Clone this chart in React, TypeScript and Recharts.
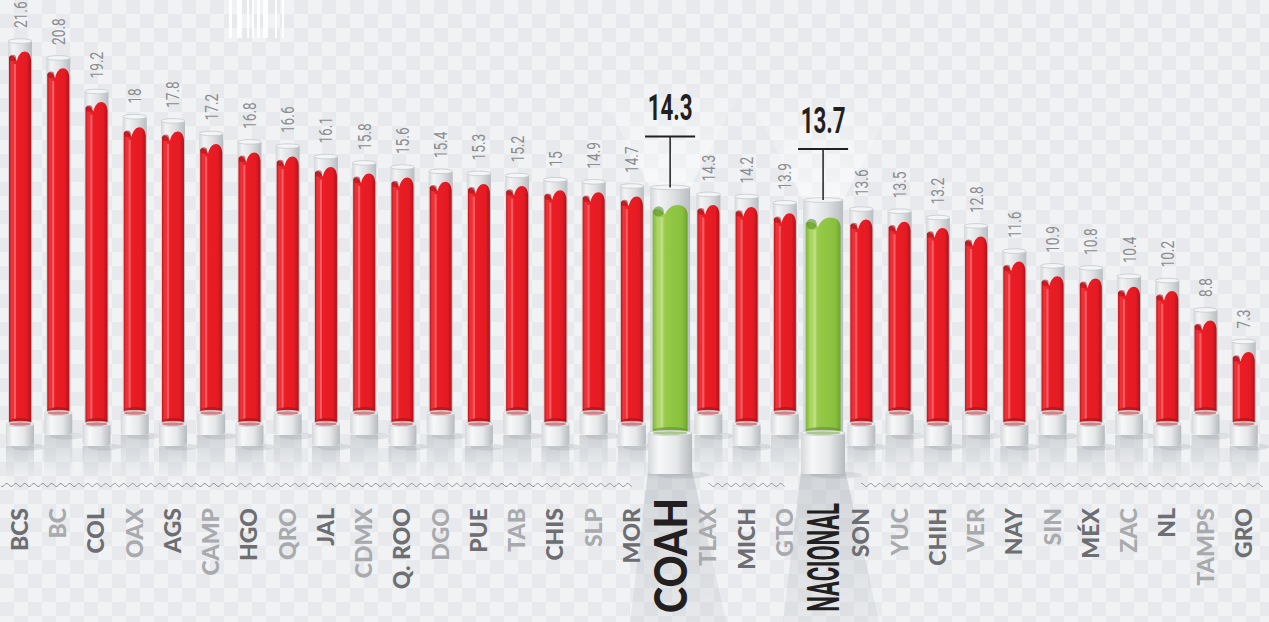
import React from 'react';
import { BarChart, Bar, XAxis, YAxis, LabelList } from 'recharts';

const categories = ['BCS', 'BC', 'COL', 'OAX', 'AGS', 'CAMP', 'HGO', 'QRO', 'JAL', 'CDMX', 'Q. ROO', 'DGO', 'PUE', 'TAB', 'CHIS', 'SLP', 'MOR', 'COAH', 'TLAX', 'MICH', 'GTO', 'NACIONAL', 'SON', 'YUC', 'CHIH', 'VER', 'NAY', 'SIN', 'MÉX', 'ZAC', 'NL', 'TAMPS', 'GRO'];
const values = [21.6, 20.8, 19.2, 18, 17.8, 17.2, 16.8, 16.6, 16.1, 15.8, 15.6, 15.4, 15.3, 15.2, 15, 14.9, 14.7, 14.3, 14.3, 14.2, 13.9, 13.7, 13.6, 13.5, 13.2, 12.8, 11.6, 10.9, 10.8, 10.4, 10.2, 8.8, 7.3];
const highlighted = ['COAH', 'NACIONAL'];
const yDomain = [3.94, 24.08];

const data = categories.map((name, i) => ({ name, value: values[i] }));

const W = 1269;
const H = 622;
const M = { top: 0, right: 6, bottom: 199, left: 1 };
const BAND = (W - M.left - M.right) / categories.length;

const isHi = (i: number) => highlighted.includes(categories[i]);
function regularRank(index: number) {
  let c = 0;
  for (let i = 0; i < index; i++) if (isHi(i)) c++;
  return index - c;
}
const isLow = (i: number) => regularRank(i) % 2 === 0;

function wavePath(xs: number, xe: number, wy: number) {
  let d = '';
  for (let x = xs; x <= xe + 0.01; x += 1) {
    const yy = wy + 1.6 * Math.sin((2 * Math.PI * x) / 9);
    d += (d ? ' L' : 'M') + x.toFixed(1) + ',' + yy.toFixed(2);
  }
  return d;
}

function Defs() {
  return (
    <defs>
      <linearGradient id="redG" x1="0" x2="1" y1="0" y2="0">
        <stop offset="0" stopColor="#c5131a" />
        <stop offset="0.12" stopColor="#f2343a" />
        <stop offset="0.3" stopColor="#ec1c24" />
        <stop offset="0.8" stopColor="#e41b23" />
        <stop offset="1" stopColor="#b5111a" />
      </linearGradient>
      <linearGradient id="greenG" x1="0" x2="1" y1="0" y2="0">
        <stop offset="0" stopColor="#7db53a" />
        <stop offset="0.15" stopColor="#b0d867" />
        <stop offset="0.4" stopColor="#95c946" />
        <stop offset="0.85" stopColor="#88c03d" />
        <stop offset="1" stopColor="#6ea42e" />
      </linearGradient>
      <linearGradient id="glassG" x1="0" x2="1" y1="0" y2="0">
        <stop offset="0" stopColor="#d3d7da" />
        <stop offset="0.2" stopColor="#f2f3f4" />
        <stop offset="0.6" stopColor="#dde0e2" />
        <stop offset="1" stopColor="#b8bdc1" />
      </linearGradient>
      <linearGradient id="capG" x1="0" x2="1" y1="0" y2="0">
        <stop offset="0" stopColor="#d6d9dc" />
        <stop offset="0.25" stopColor="#f7f8f8" />
        <stop offset="0.65" stopColor="#e5e7e9" />
        <stop offset="1" stopColor="#b6bbbf" />
      </linearGradient>
      <linearGradient id="shadowG" x1="0" x2="0" y1="0" y2="1">
        <stop offset="0" stopColor="#b4b9be" stopOpacity="0.55" />
        <stop offset="1" stopColor="#d0d4d8" stopOpacity="0" />
      </linearGradient>
      <linearGradient id="spotG" x1="0" x2="0" y1="0" y2="1">
        <stop offset="0" stopColor="#ffffff" stopOpacity="0" />
        <stop offset="1" stopColor="#ffffff" stopOpacity="0.5" />
      </linearGradient>
      <linearGradient id="floorG" x1="0" x2="0" y1="0" y2="1">
        <stop offset="0" stopColor="#9aa0a6" stopOpacity="0.35" />
        <stop offset="1" stopColor="#b0b5ba" stopOpacity="0.15" />
      </linearGradient>
    </defs>
  );
}

function Tube(props: any) {
  const { x, y, width, height, index } = props;
  const hi = isHi(index);
  const cx = x + width / 2;
  const base = y + height;
  const low = isLow(index);
  const lb = hi ? base + 9 : low ? base : base - 11;
  const gw = hi ? 40 : 24;
  const lw = hi ? 35 : 22;
  const capW = hi ? 44 : 28;
  const capH = hi ? 42 : 23;
  const gTop = y - (hi ? 18 : 11);
  const capBottom = lb + capH;
  const waveY = base + 62;
  const t = y;
  const x0 = cx - lw / 2;
  const x1 = cx + lw / 2;

  let ws = cx - BAND / 2;
  let we = cx + BAND / 2;
  if (index > 0 && isHi(index - 1)) ws = cx;
  if (index < categories.length - 1 && isHi(index + 1)) we = cx;

  const liquid = `M${x0},${lb} L${x0},${t + 5} Q${x0 + lw * 0.18},${t + 1} ${x0 + lw * 0.36},${t + 9} C${x0 + lw * 0.46},${t - 3} ${x0 + lw * 0.96},${t - 4} ${x1},${t + 8} L${x1},${lb} Z`;
  const tY = gTop - 51;

  return (
    <g>
      {index === 0 && <Defs />}
      {!hi && <path d={wavePath(ws, we, waveY)} fill="none" stroke="#8f9397" strokeWidth={1} />}
      {hi && (
        <>
          <polygon
            points={`${cx - gw / 2},${gTop} ${cx + gw / 2},${gTop} ${cx + 80},${gTop - 115} ${cx - 80},${gTop - 115}`}
            fill="url(#spotG)"
          />
          <polygon
            points={`${cx - capW / 2},${capBottom - 4} ${cx + capW / 2},${capBottom - 4} ${cx + capW / 2 + 34},${H} ${cx - capW / 2 - 18},${H}`}
            fill="url(#floorG)"
          />
        </>
      )}
      <rect x={cx - capW / 2} y={capBottom} width={capW} height={Math.max(0, waveY - 4 - capBottom)} fill="url(#shadowG)" />
      <ellipse cx={cx + capW * 0.3} cy={capBottom + 1} rx={capW * 0.6} ry={3.5} fill="#7d8388" opacity={0.16} />
      <rect x={cx - gw / 2} y={gTop} width={gw} height={lb - gTop} fill="url(#glassG)" />
      <path d={liquid} fill={hi ? 'url(#greenG)' : 'url(#redG)'} />
      <circle cx={x0 + lw * 0.17} cy={t + 6} r={lw * 0.15} fill={hi ? '#4f8a1c' : '#9e1016'} opacity={0.55} />
      <rect x={x0 + lw * 0.22} y={t + 12} width={hi ? 3 : 2.2} height={Math.max(0, lb - t - 16)} fill="#ffffff" opacity={0.28} />
      <ellipse cx={cx} cy={lb - 2} rx={lw / 2} ry={3} fill={hi ? '#4f7e1e' : '#8e0d12'} opacity={0.45} />
      <ellipse cx={cx} cy={gTop} rx={gw / 2} ry={2.3} fill="#f4f5f6" stroke="#c5c9cd" strokeWidth={0.8} />
      <rect x={cx - capW / 2} y={lb} width={capW} height={capH} rx={4} fill="url(#capG)" />
      <ellipse cx={cx} cy={lb + 1} rx={capW / 2} ry={2.6} fill="#eff1f2" stroke="#cdd1d4" strokeWidth={0.8} />
      <ellipse cx={cx} cy={lb + 1} rx={lw / 2} ry={1.8} fill={hi ? '#6a9c2d' : '#b3141b'} opacity={0.5} />
      {hi && (
        <>
          <line x1={cx - 25} x2={cx + 25} y1={tY} y2={tY} stroke="#231f20" strokeWidth={2} />
          <line x1={cx} x2={cx} y1={tY} y2={gTop} stroke="#231f20" strokeWidth={1.5} />
          <text
            transform={`translate(${cx},${tY - 16}) scale(0.62,1)`}
            textAnchor="middle"
            fontFamily="Roboto, 'DejaVu Sans', sans-serif"
            fontWeight={700}
            fontSize={36}
            fill="#231f20"
          >
            {values[index]}
          </text>
        </>
      )}
    </g>
  );
}

function getBox(props: any) {
  const vb = props.viewBox || {};
  return {
    x: props.x ?? vb.x,
    y: props.y ?? vb.y,
    width: props.width ?? vb.width,
    height: props.height ?? vb.height,
  };
}

function ValueLabel(props: any) {
  const { index, value } = props;
  if (isHi(index)) return null;
  const { x, y, width } = getBox(props);
  const cx = x + width / 2;
  return (
    <text
      transform={`translate(${cx + 6.5},${y - 24}) rotate(-90) scale(0.74,1)`}
      textAnchor="start"
      fontFamily="Roboto, 'DejaVu Sans', sans-serif"
      fontWeight={400}
      fontSize={18.5}
      fill="#8b8d90"
    >
      {value}
    </text>
  );
}

function CategoryLabel(props: any) {
  const { index, value } = props;
  const { x, y, width, height } = getBox(props);
  const cx = x + width / 2;
  const base = y + height;
  const name = categories[index];
  if (name === 'COAH') {
    return (
      <text
        transform={`translate(${cx + 16.5},${base + 75}) rotate(-90) scale(0.86,1)`}
        textAnchor="end"
        fontFamily="Lato, 'DejaVu Sans', sans-serif"
        fontWeight={900}
        fontSize={46}
        fill="#231f20"
      >
        {value}
      </text>
    );
  }
  if (name === 'NACIONAL') {
    return (
      <text
        transform={`translate(${cx + 16},${base + 80}) rotate(-90) scale(0.5,1)`}
        textAnchor="end"
        fontFamily="Roboto, 'DejaVu Sans', sans-serif"
        fontWeight={700}
        fontSize={44}
        fill="#231f20"
      >
        {value}
      </text>
    );
  }
  const dark = isLow(index);
  return (
    <text
      transform={`translate(${cx + 8},${base + 85}) rotate(-90)`}
      textAnchor="end"
      fontFamily="Lato, 'DejaVu Sans', sans-serif"
      fontWeight={900}
      fontSize={23}
      fill={dark ? '#6d6e71' : '#a8aaad'}
    >
      {value}
    </text>
  );
}

const stripes = [
  [229, 3], [237, 5], [247, 2], [252, 2], [257, 3], [263, 5], [275, 2], [282, 2],
];

export default function App() {
  return (
    <div
      style={{
        position: 'absolute',
        left: 0,
        top: 0,
        width: W,
        height: H,
        overflow: 'hidden',
        backgroundColor: '#eceef1',
        backgroundImage:
          'repeating-conic-gradient(#e7e9ec 0% 25%, #f0f2f4 0% 50%)',
        backgroundSize: '28px 28px',
      }}
    >
      {stripes.map(([sx, sw], i) => (
        <div key={i} style={{ position: 'absolute', left: sx, top: 0, width: sw, height: 38, background: '#ffffff', opacity: 0.9 }} />
      ))}
      <div style={{ position: 'absolute', left: 0, top: 0 }}>
        <BarChart width={W} height={H} data={data} margin={M} barCategoryGap={0}>
          <XAxis dataKey="name" hide />
          <YAxis hide domain={yDomain} />
          <Bar dataKey="value" barSize={24} isAnimationActive={false} shape={<Tube />}>
            <LabelList dataKey="value" content={<ValueLabel />} />
            <LabelList dataKey="name" content={<CategoryLabel />} />
          </Bar>
        </BarChart>
      </div>
    </div>
  );
}
